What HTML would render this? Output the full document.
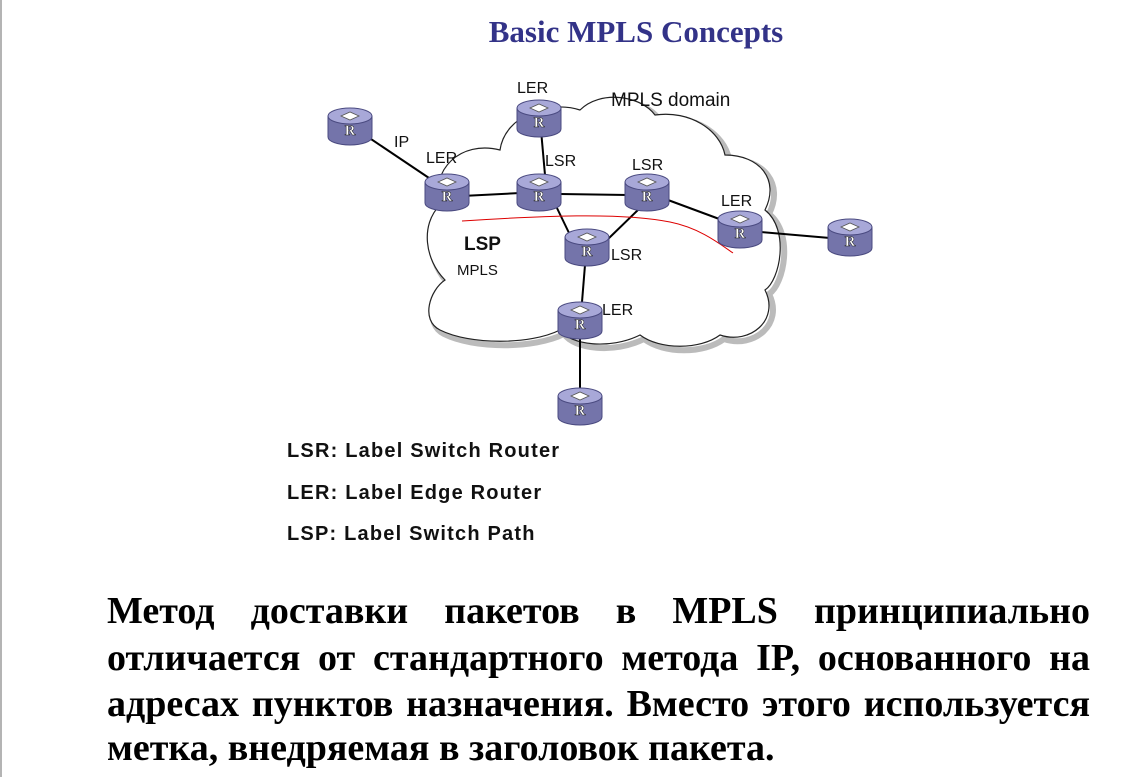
<!DOCTYPE html>
<html><head><meta charset="utf-8"><style>
body{margin:0;width:1140px;height:777px;background:#fff;position:relative;overflow:hidden}
.t{position:absolute;left:0;width:1272px;text-align:center;top:14px;font:bold 31px "Liberation Serif",serif;color:#333388}
.lg{position:absolute;left:287px;font:bold 20px "Liberation Sans",sans-serif;color:#111;letter-spacing:1.2px}
.p{position:absolute;left:107px;width:983px;font:bold 38px/46px "Liberation Serif","Noto Serif CJK SC",serif;color:#000;white-space:nowrap}
.j{text-align:justify;text-align-last:justify}
</style></head><body>
<div style="position:absolute;left:0;top:0;width:2px;height:777px;background:#b4b4b4"></div>
<div class="t">Basic MPLS Concepts</div>
<svg width="1140" height="777" style="position:absolute;left:0;top:0" font-family="Liberation Sans, sans-serif">
<defs>
<g id="r">
<path d="M-22,-9 L-22,12 A22,8 0 0 0 22,12 L22,-9 Z" fill="#7474aa" stroke="#4a4a80" stroke-width="1"/>
<ellipse cx="0" cy="-9" rx="22" ry="8" fill="#a8a8d8" stroke="#4a4a80" stroke-width="1"/>
<path d="M-9,-9 L0,-13 L9,-9 L0,-5 Z" fill="#fff" stroke="#555" stroke-width="0.8"/>
<text x="0" y="10" text-anchor="middle" font-family="Liberation Serif, serif" font-weight="bold" font-size="15" fill="#fff" stroke="#222" stroke-width="0.5">R</text>
</g>
</defs>
<path d="M440,330 C420,320 430,290 445,280 C425,260 420,225 440,205 C430,170 460,140 500,150 C505,115 550,100 580,110 C600,90 640,95 655,115 C690,110 720,130 725,155 C760,155 780,180 765,210 C790,230 780,280 765,290 C780,320 750,345 720,335 C700,350 660,350 640,335 C610,350 570,345 560,330 C530,345 470,345 440,330 Z" fill="#fff" stroke="#bbb" stroke-width="6" transform="translate(4,4)"/>
<path d="M440,330 C420,320 430,290 445,280 C425,260 420,225 440,205 C430,170 460,140 500,150 C505,115 550,100 580,110 C600,90 640,95 655,115 C690,110 720,130 725,155 C760,155 780,180 765,210 C790,230 780,280 765,290 C780,320 750,345 720,335 C700,350 660,350 640,335 C610,350 570,345 560,330 C530,345 470,345 440,330 Z" fill="#fff" stroke="#222" stroke-width="1.2"/>
<g stroke="#000" stroke-width="2" fill="none">
<line x1="365" y1="135" x2="432" y2="180"/>
<line x1="462" y1="196" x2="520" y2="193"/>
<line x1="541" y1="130" x2="545" y2="175"/>
<line x1="560" y1="194" x2="628" y2="195"/>
<line x1="556" y1="206" x2="570" y2="235"/>
<line x1="640" y1="208" x2="607" y2="240"/>
<line x1="668" y1="200" x2="722" y2="220"/>
<line x1="760" y1="232" x2="830" y2="238"/>
<line x1="585" y1="265" x2="582" y2="302"/>
<line x1="580" y1="338" x2="580" y2="388"/>
</g>
<path d="M462,221 C540,216 620,212 670,222 C700,228 720,244 733,253" stroke="#d00" stroke-width="1" fill="none"/>
<use href="#r" x="350" y="125"/>
<use href="#r" x="539" y="117"/>
<use href="#r" x="447" y="191"/>
<use href="#r" x="539" y="191"/>
<use href="#r" x="647" y="191"/>
<use href="#r" x="740" y="228"/>
<use href="#r" x="587" y="246"/>
<use href="#r" x="580" y="319"/>
<use href="#r" x="850" y="236"/>
<use href="#r" x="580" y="405"/>
<g font-size="16" fill="#111">
<text x="517" y="93">LER</text>
<text x="611" y="106" font-size="19">MPLS domain</text>
<text x="394" y="147">IP</text>
<text x="426" y="163">LER</text>
<text x="545" y="166">LSR</text>
<text x="632" y="170">LSR</text>
<text x="721" y="206">LER</text>
<text x="611" y="260">LSR</text>
<text x="602" y="315">LER</text>
<text x="464" y="250" font-size="19" font-weight="bold">LSP</text>
<text x="457" y="275" font-size="15">MPLS</text>
</g>
</svg>
<div class="lg" style="top:440px">LSR: Label Switch Router</div>
<div class="lg" style="top:482px">LER: Label Edge Router</div>
<div class="lg" style="top:523px">LSP: Label Switch Path</div>
<div class="p j" style="top:588px">Метод доставки пакетов в MPLS принципиально</div>
<div class="p j" style="top:635px">отличается от стандартного метода IP, основанного на</div>
<div class="p j" style="top:681px">адресах пунктов назначения. Вместо этого используется</div>
<div class="p" style="top:725px">метка, внедряемая в заголовок пакета.</div>
</body></html>
